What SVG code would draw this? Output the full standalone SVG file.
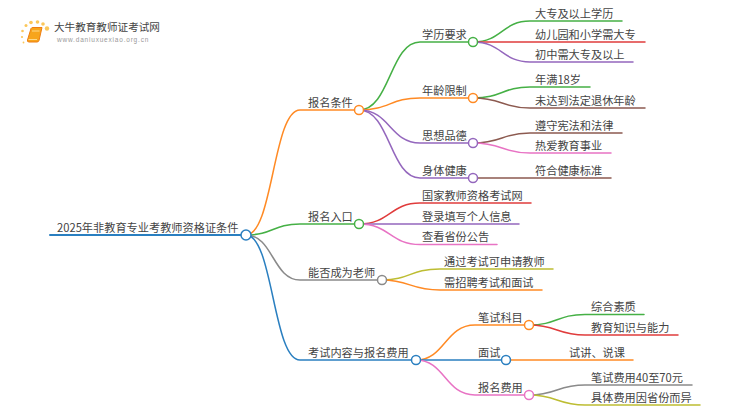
<svg xmlns="http://www.w3.org/2000/svg" width="750" height="410" viewBox="0 0 750 410">
<style>
text{font-family:"Noto Sans CJK SC","Liberation Sans",sans-serif;font-size:11.2px;fill:#444}
.l{fill:none;stroke-width:1.5;stroke-linecap:round}
.n{fill:#fff;stroke-width:1.5}
.o{stroke:#ff8a24}.g{stroke:#45b045}.r{stroke:#e03c3c}.p{stroke:#9467bd}.b{stroke:#8c5a50}.k{stroke:#e873c4}.y{stroke:#bdbd32}.e{stroke:#8a8a8a}.u{stroke:#2a7fc0}
</style>
<rect width="750" height="410" fill="#fff"/>
<g id="logo">
<g fill="#fbc75a"><circle cx="47" cy="28.500" r="2.200"/><circle cx="43" cy="24" r="1.800"/><circle cx="37.500" cy="22" r="1.800"/><circle cx="31" cy="22.500" r="1.800"/><circle cx="26" cy="25.500" r="1.500"/><circle cx="22.500" cy="31" r="1.300"/><circle cx="22" cy="37" r="1.100"/><circle cx="23.500" cy="42.500" r="0.900"/></g>
<path d="M31 28.500Q31.500 27.500 33 27.500H42L39 40.500Q38.500 42 37 42H29Q27 42 27.500 40Z" fill="#f7a51c" stroke="#ee7d10"/>
<path d="M32 31H39.500M28.500 39.500H37" stroke="#fdd98a" fill="none"/>
<text x="54" y="31" style="font-size:10.600px;fill:#444">大牛教育教师证考试网</text>
<text x="57" y="42" style="font-family:'Liberation Sans',sans-serif;font-size:6.500px;letter-spacing:.8px;fill:#999">www.daniuxuexiao.org.cn</text>
</g>
<g id="connectors">
<path class="l u" style="stroke-width:2" d="M50 235H246"/>
<path class="l o" d="M246 235C273 235 273 110 300 110H359"/>
<path class="l g" d="M246 235C273 235 273 224 300 224H359"/>
<path class="l e" d="M246 235C273 235 273 280 300 280H382"/>
<path class="l u" d="M246 235C273 235 273 360 300 360H416"/>
<path class="l g" d="M359 110C390 110 390 42 420 42H473"/>
<path class="l o" d="M359 110C390 110 390 98 420 98H473"/>
<path class="l p" d="M359 110C390 110 390 143 420 143H473"/>
<path class="l p" d="M359 110C390 110 390 178 420 178H473"/>
<path class="l g" d="M473 42C502 42 502 21 530 21H622"/>
<path class="l r" d="M473 42H645"/>
<path class="l p" d="M473 42C502 42 502 62 530 62H633"/>
<path class="l g" d="M473 98C502 98 502 87 530 87H590"/>
<path class="l b" d="M473 98C502 98 502 108 530 108H645"/>
<path class="l b" d="M473 143C502 143 502 133 530 133H622"/>
<path class="l k" d="M473 143C502 143 502 153 530 153H611"/>
<path class="l b" d="M473 178H611"/>
<path class="l r" d="M359 224C390 224 390 203 420 203H531"/>
<path class="l p" d="M359 224H519"/>
<path class="l k" d="M359 224C390 224 390 244.500 420 244.500H497"/>
<path class="l y" d="M382 280C410 280 410 269 440 269H553"/>
<path class="l o" d="M382 280C410 280 410 290 440 290H542"/>
<path class="l o" d="M416 360C445 360 445 325 475 325H529"/>
<path class="l u" d="M416 360H506"/>
<path class="l k" d="M416 360C445 360 445 395 475 395H529"/>
<path class="l g" d="M529 325C557 325 557 314.500 585 314.500H644"/>
<path class="l r" d="M529 325C557 325 557 335 585 335H678"/>
<path class="l o" d="M506 360H633"/>
<path class="l e" d="M529 395C557 395 557 385 585 385H692"/>
<path class="l y" d="M529 395C557 395 557 405 585 405H700"/>
</g>
<g id="root"><text x="57" y="232">2025年非教育专业考教师资格证条件</text><circle class="n u" cx="246" cy="235" r="5"/></g>
<g id="n1"><text x="308" y="107">报名条件</text><circle class="n o" cx="359" cy="110" r="4.500"/></g>
<g id="n2"><text x="308" y="221">报名入口</text><circle class="n g" cx="359" cy="224" r="4.500"/></g>
<g id="n3"><text x="308" y="277">能否成为老师</text><circle class="n e" cx="382" cy="280" r="4.500"/></g>
<g id="n4"><text x="308" y="357">考试内容与报名费用</text><circle class="n u" cx="416" cy="360" r="4.500"/></g>
<g id="n11"><text x="422" y="39">学历要求</text><circle class="n g" cx="473" cy="42" r="4.500"/></g>
<g id="n12"><text x="422" y="95">年龄限制</text><circle class="n o" cx="473" cy="98" r="4.500"/></g>
<g id="n13"><text x="422" y="140">思想品德</text><circle class="n p" cx="473" cy="143" r="4.500"/></g>
<g id="n14"><text x="422" y="175">身体健康</text><circle class="n p" cx="473" cy="178" r="4.500"/></g>
<g id="l1"><text x="535" y="18">大专及以上学历</text></g>
<g id="l2"><text x="535" y="39">幼儿园和小学需大专</text></g>
<g id="l3"><text x="535" y="59">初中需大专及以上</text></g>
<g id="l4"><text x="535" y="84">年满18岁</text></g>
<g id="l5"><text x="535" y="105">未达到法定退休年龄</text></g>
<g id="l6"><text x="535" y="130">遵守宪法和法律</text></g>
<g id="l7"><text x="535" y="150">热爱教育事业</text></g>
<g id="l8"><text x="535" y="175">符合健康标准</text></g>
<g id="l9"><text x="422" y="200">国家教师资格考试网</text></g>
<g id="l10"><text x="422" y="221">登录填写个人信息</text></g>
<g id="l11"><text x="422" y="241">查看省份公告</text></g>
<g id="l12"><text x="444" y="266">通过考试可申请教师</text></g>
<g id="l13"><text x="444" y="287">需招聘考试和面试</text></g>
<g id="n41"><text x="478" y="322">笔试科目</text><circle class="n o" cx="529" cy="325" r="4.500"/></g>
<g id="n42"><text x="478" y="357">面试</text><circle class="n u" cx="506" cy="360" r="4.500"/></g>
<g id="n43"><text x="478" y="392">报名费用</text><circle class="n k" cx="529" cy="395" r="4.500"/></g>
<g id="l14"><text x="591" y="311">综合素质</text></g>
<g id="l15"><text x="591" y="332">教育知识与能力</text></g>
<g id="l16"><text x="569" y="357">试讲、说课</text></g>
<g id="l17"><text x="591" y="382">笔试费用40至70元</text></g>
<g id="l18"><text x="591" y="402">具体费用因省份而异</text></g>
</svg>
